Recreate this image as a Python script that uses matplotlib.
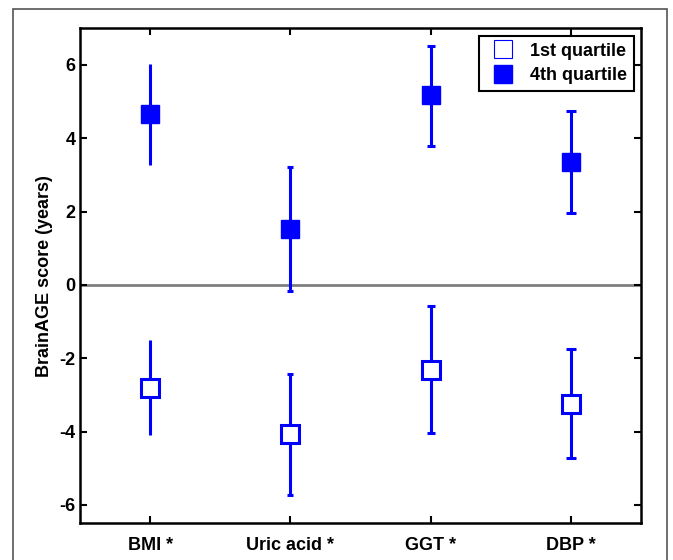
import matplotlib.pyplot as plt
from matplotlib.lines import Line2D
from matplotlib.patches import Rectangle

plt.rcParams['font.family'] = ['Liberation Sans Narrow', 'Liberation Sans', 'DejaVu Sans']
plt.rcParams['font.weight'] = 'bold'
plt.rcParams['axes.unicode_minus'] = False

labels = ['BMI *', 'Uric acid *', 'GGT *', 'DBP *']
q1_mean = [-2.80, -4.06, -2.32, -3.25]
q1_low = [-4.10, -5.72, -4.05, -4.72]
q1_high = [-1.50, -2.42, -0.58, -1.75]
q4_mean = [4.65, 1.53, 5.17, 3.35]
q4_low = [3.28, -0.17, 3.80, 1.95]
q4_high = [6.02, 3.21, 6.52, 4.74]

blue = (0, 0, 1)
caps = [0, 2.05, 3.15, 3.95]

fig = plt.figure(figsize=(6.73, 5.60), dpi=100)
ax = fig.add_axes([0.1189, 0.0655, 0.8336, 0.884])

# outer frame
fig.patches.append(Rectangle((13 / 673, -0.05), 654 / 673, 1.05 - 9 / 560,
                             transform=fig.transFigure, fill=False,
                             edgecolor='#555555', linewidth=1.2))

ax.axhline(0, color='#808080', linewidth=2, zorder=1)

for i in range(len(labels)):
    x = i + 1
    ax.errorbar([x], [q4_mean[i]],
                yerr=[[q4_mean[i] - q4_low[i]], [q4_high[i] - q4_mean[i]]],
                fmt='s', color=blue, markersize=13.5, markerfacecolor=blue,
                elinewidth=2.2, capsize=caps[i], capthick=2.2, zorder=3)
    ax.errorbar([x], [q1_mean[i]],
                yerr=[[q1_mean[i] - q1_low[i]], [q1_high[i] - q1_mean[i]]],
                fmt='s', color=blue, markersize=12.5, markerfacecolor='white',
                markeredgewidth=2.2, elinewidth=2.2, capsize=caps[i],
                capthick=2.2, zorder=3)

ax.set_xlim(0.5, 4.5)
ax.set_ylim(-6.5, 7)
ax.set_xticks(range(1, len(labels) + 1))
ax.set_xticklabels(labels)
ax.set_yticks([-6, -4, -2, 0, 2, 4, 6])
ax.tick_params(direction='in', top=True, right=True, length=5, width=1.5,
               labelsize=13)
ax.tick_params(axis='x', pad=10)
ax.tick_params(axis='y', pad=3)
for s in ax.spines.values():
    s.set_linewidth(1.8)
ax.set_ylabel('BrainAGE score (years)', fontsize=13, fontweight='bold', labelpad=5)

handles = [Line2D([], [], linestyle='none', marker='s', markersize=13,
                  markerfacecolor='white', markeredgecolor=blue, markeredgewidth=0.8),
           Line2D([], [], linestyle='none', marker='s', markersize=13,
                  markerfacecolor=blue, markeredgecolor=blue)]
leg = ax.legend(handles, ['1st quartile', '4th quartile'], loc='upper right',
                fancybox=False, edgecolor='black', framealpha=1,
                prop={'size': 13, 'weight': 'bold'}, handletextpad=0.6,
                borderaxespad=0.4, handlelength=1.8, labelspacing=0.4)
leg.get_frame().set_linewidth(1.5)

fig.savefig('out.png', dpi=100)
